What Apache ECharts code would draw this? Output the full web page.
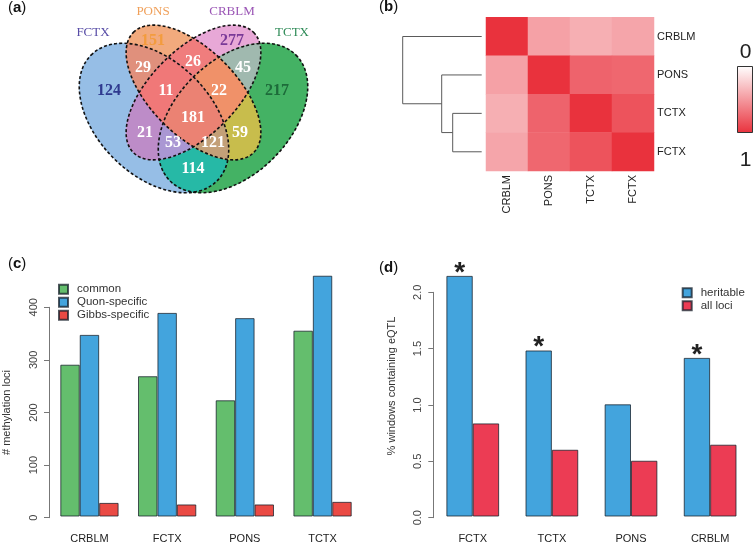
<!DOCTYPE html>
<html><head><meta charset="utf-8">
<script src="https://cdn.jsdelivr.net/npm/echarts@6/dist/echarts.min.js"></script>
<style>html,body{margin:0;padding:0;background:#fff}#c{width:754px;height:544px}</style>
</head><body><div id="c"></div>
<script>
// ---------- DATA ----------
// (a) Venn
const vennSetNames = ['FCTX', 'PONS', 'CRBLM', 'TCTX'];
const vennRegionSets = ['F','P','C','T','FP','PC','CT','FT','FC','PT','FPC','PCT','FCT','FPT','FPCT'];
const vennCounts = [124, 151, 277, 217, 29, 26, 45, 114, 21, 59, 11, 22, 53, 121, 181];
// (b) heatmap + dendrogram
const heatLabels = ['CRBLM', 'PONS', 'TCTX', 'FCTX'];
const corrMatrix = [
  [1.00, 0.46, 0.39, 0.44],
  [0.46, 1.00, 0.76, 0.74],
  [0.39, 0.76, 1.00, 0.84],
  [0.44, 0.74, 0.84, 1.00]
];
const dendroMerge = [[-3, -4], [-2, 1], [-1, 2]];   // hclust-style merges (negative = leaf)
const dendroHeight = [0.29, 0.40, 0.79];
// (c)
const regionsC = ['CRBLM', 'FCTX', 'PONS', 'TCTX'];
const commonC = [290, 268, 222, 355];
const quonC = [347, 389, 379, 460];
const gibbsC = [26, 23, 23, 28];
const ticksC = [0, 100, 200, 300, 400];
// (d)
const regionsD = ['FCTX', 'TCTX', 'PONS', 'CRBLM'];
const heritableD = [2.145, 1.48, 1.0, 1.414];
const allLociD = [0.83, 0.595, 0.497, 0.64];
const significantD = [true, true, false, true];
const ticksD = [0, 0.5, 1.0, 1.5, 2.0];

// ---------- STYLE / LAYOUT ----------
const FONT = 'Liberation Sans';
const heatRed = '#e9323d';
const regionFill = {
  F:'#96bee6', P:'#f2aa7d', C:'#e8a8d7', T:'#44b264',
  FP:'#e0907c', PC:'#f07d7d', CT:'#a0b9af', FT:'#26b9a6', FC:'#bd8cc8', PT:'#c8bd4c',
  FPC:'#f07878', PCT:'#f09169', FCT:'#aa97d3', FPT:'#c3a078', FPCT:'#eb8273'
};
const setKeys = ['F','P','C','T'];
const setLabelColor = ['#574ca6', '#f0a05a', '#9a55b5', '#2e8b57'];
const setLabelPos = [[93,33],[153,12],[232,12],[292,33]];
const countColor = {F:'#2f3a8f', P:'#f39c3e', C:'#7a3a98', T:'#1d6b3a'};
const countPos = [[109,91],[153,41],[232,41],[277,91],[143,68],[193,62],[243,68],[193,169],
                  [145,133],[240,133],[166,91],[219,91],[173,143],[213,143],[193,118]];
// ellipse layout in pixels (rotation in screen degrees, clockwise)
const ellipses = [
  {cx:154, cy:118, a:89, b:57, rot:45},
  {cx:193.5, cy:92.5, a:85, b:43, rot:45},
  {cx:193.5, cy:92.5, a:85, b:43, rot:135},
  {cx:233, cy:118, a:89, b:57, rot:135}
];
function ellPoly(e, n){
  const pts = [], th = e.rot*Math.PI/180;
  for (let i = 0; i < n; i++){
    const t = 2*Math.PI*i/n;
    pts.push([e.cx + e.a*Math.cos(t)*Math.cos(th) - e.b*Math.sin(t)*Math.sin(th),
              e.cy + e.a*Math.cos(t)*Math.sin(th) + e.b*Math.sin(t)*Math.cos(th)]);
  }
  return pts;
}
function signedArea(p){ let s=0; for(let i=0;i<p.length;i++){const a=p[i],b=p[(i+1)%p.length]; s+=a[0]*b[1]-b[0]*a[1];} return s/2; }
function clip(subject, clipPoly){
  let out = subject.slice();
  const sg = Math.sign(signedArea(clipPoly));
  for (let i = 0; i < clipPoly.length; i++){
    const A = clipPoly[i], B = clipPoly[(i+1)%clipPoly.length];
    const inp = out; out = [];
    if (!inp.length) break;
    const d = p => (B[0]-A[0])*(p[1]-A[1]) - (B[1]-A[1])*(p[0]-A[0]);
    for (let j = 0; j < inp.length; j++){
      const P = inp[j], Q = inp[(j+1)%inp.length];
      const dp = d(P), dq = d(Q), pi = sg*dp >= 0, qi = sg*dq >= 0;
      if (pi) out.push(P);
      if (pi !== qi){ const t = dp/(dp-dq); out.push([P[0]+t*(Q[0]-P[0]), P[1]+t*(Q[1]-P[1])]); }
    }
  }
  return out;
}
const ellPolys = ellipses.map(e => ellPoly(e, 180));

const graphics = [];
// region fills: paint intersections in order of increasing set count
const order = vennRegionSets.map((s,i)=>i).sort((a,b)=>vennRegionSets[a].length - vennRegionSets[b].length);
order.forEach(i => {
  const key = vennRegionSets[i];
  let poly = null;
  key.split('').forEach(k => {
    const ep = ellPolys[setKeys.indexOf(k)];
    poly = poly ? clip(poly, ep) : ep.slice();
  });
  graphics.push({type:'polygon', z:1, shape:{points: poly}, style:{fill: regionFill[key], stroke: regionFill[key], lineWidth: 0.5}});
});
ellipses.forEach(e => {
  graphics.push({type:'ellipse', z:2, x: e.cx, y: e.cy, rotation: -e.rot*Math.PI/180,
    shape:{cx:0, cy:0, rx:e.a, ry:e.b},
    style:{fill:'none', stroke:'#111', lineWidth:1.6, lineDash:[3,2.2]}});
});
vennSetNames.forEach((n,i) => {
  graphics.push({type:'text', z:3, x:setLabelPos[i][0], y:setLabelPos[i][1],
    style:{text:n, fill:setLabelColor[i], font:'13px "Liberation Serif"', align:'center', verticalAlign:'middle'}});
});
vennCounts.forEach((c,i) => {
  const key = vennRegionSets[i];
  graphics.push({type:'text', z:3, x:countPos[i][0], y:countPos[i][1],
    style:{text:String(c), fill: key.length === 1 ? countColor[key] : '#ffffff',
      font:'bold 16px "Liberation Serif"', align:'center', verticalAlign:'middle'}});
});
// panel labels
[['a',8,8],['b',379,7],['c',8,264],['d',379,268]].forEach(p => {
  graphics.push({type:'text', z:3, x:p[1], y:p[2],
    style:{text:'({b|' + p[0] + '})', fontSize:15, fontFamily:FONT, fill:'#111', verticalAlign:'middle',
      rich:{b:{fontWeight:'bold', fontSize:15, fontFamily:FONT, fill:'#111'}}}});
});
// colour key for (b)
graphics.push({type:'rect', z:3, shape:{x:737.5, y:66.5, width:15, height:66},
  style:{fill: new echarts.graphic.LinearGradient(0,0,0,1,[{offset:0,color:'#ffffff'},{offset:1,color:heatRed}]),
    stroke:'#333', lineWidth:1}});
graphics.push({type:'text', z:3, x:745.5, y:52, style:{text:'0', font:'21px "Liberation Sans"', fill:'#222', align:'center', verticalAlign:'middle'}});
graphics.push({type:'text', z:3, x:745.5, y:160, style:{text:'1', font:'21px "Liberation Sans"', fill:'#222', align:'center', verticalAlign:'middle'}});

// heatmap data
const heatData = [];
corrMatrix.forEach((row, r) => row.forEach((v, c) => heatData.push([c, r, v])));
// dendrogram lines
const leafPos = heatLabels.map((_, i) => i);
const nodePos = [], nodeH = [];
const dendroSeries = [];
function childInfo(id){ return id < 0 ? [0, leafPos[-id-1]] : [nodeH[id-1], nodePos[id-1]]; }
dendroMerge.forEach((m, k) => {
  const [hl, yl] = childInfo(m[0]);
  const [hr, yr] = childInfo(m[1]);
  const h = dendroHeight[k];
  nodeH.push(h); nodePos.push((yl + yr)/2);
  dendroSeries.push({type:'line', xAxisIndex:1, yAxisIndex:1, symbol:'none', silent:true,
    lineStyle:{color:'#5a5a5a', width:1}, data:[[hl, yl],[h, yl],[h, yr],[hr, yr]]});
});

const barBorder = {borderColor:'rgba(20,30,40,0.75)', borderWidth:1};

const option = {
  animation:false,
  textStyle:{fontFamily:FONT},
  graphic: graphics,
  grid:[
    {left:486, top:17.3, width:168, height:153.7},          // 0 heatmap
    {left:402.7, top:17.3, width:79, height:153.7},         // 1 dendrogram
    {left:50.6, width:310.8, top:270.5, bottom:26.3},       // 2 (c) bars
    {left:49, width:1, top:307.3, bottom:26.3},             // 3 (c) axis
    {left:433.2, width:316.5, top:258.5, bottom:26.3},      // 4 (d) bars
    {left:433.3, width:1, top:292.3, bottom:26.3}           // 5 (d) axis
  ],
  xAxis:[
    {gridIndex:0, type:'category', data:heatLabels, axisLine:{show:false}, axisTick:{show:false},
      axisLabel:{rotate:90, fontSize:11, color:'#222', margin:4}},
    {gridIndex:1, type:'value', inverse:true, min:0, max:dendroHeight[dendroHeight.length-1], show:false},
    {gridIndex:2, type:'category', data:regionsC, axisLine:{show:false}, axisTick:{show:false},
      axisLabel:{fontSize:11, color:'#222', margin:16.5}},
    {gridIndex:3, type:'value', show:false, min:0, max:1},
    {gridIndex:4, type:'category', data:regionsD, axisLine:{show:false}, axisTick:{show:false},
      axisLabel:{fontSize:11, color:'#222', margin:16.5}},
    {gridIndex:5, type:'value', show:false, min:0, max:1}
  ],
  yAxis:[
    {gridIndex:0, type:'category', data:heatLabels, inverse:true, position:'right', axisLine:{show:false}, axisTick:{show:false},
      axisLabel:{fontSize:11, color:'#222', margin:3}},
    {gridIndex:1, type:'value', inverse:true, min:-0.5, max:3.5, show:false},
    {gridIndex:2, type:'value', min:0, max:470, show:false},
    {gridIndex:3, type:'value', min:0, max:ticksC[ticksC.length-1], interval:100,
      axisLine:{show:true, lineStyle:{color:'#777'}}, axisTick:{show:true, length:5, lineStyle:{color:'#777'}},
      axisLabel:{rotate:90, fontSize:11, color:'#444', margin:10}, splitLine:{show:false},
      name:'# methylation loci', nameLocation:'middle', nameGap:37, nameTextStyle:{fontSize:11, color:'#333'}},
    {gridIndex:4, type:'value', min:0, max:2.3, show:false},
    {gridIndex:5, type:'value', min:0, max:ticksD[ticksD.length-1], interval:0.5,
      axisLine:{show:true, lineStyle:{color:'#777'}}, axisTick:{show:true, length:5, lineStyle:{color:'#777'}},
      axisLabel:{rotate:90, fontSize:11, color:'#444', margin:10, formatter: v => v.toFixed(1)}, splitLine:{show:false},
      name:'% windows containing eQTL', nameLocation:'middle', nameGap:36,
      nameTextStyle:{fontSize:11, color:'#333', padding:[0,0,0,38]}}
  ],
  visualMap:{show:false, seriesIndex:0, min:0, max:1, inRange:{color:['#ffffff', heatRed]}},
  legend:[
    {left:58, top:282.8, padding:0, orient:'vertical', itemWidth:9, itemHeight:9, itemGap:0, icon:'rect',
      data:['common','Quon-specific','Gibbs-specific'],
      textStyle:{fontSize:11.5, color:'#333', lineHeight:13, padding:[0,0,0,4]}},
    {left:681.7, top:286.2, padding:0, orient:'vertical', itemWidth:9, itemHeight:9, itemGap:0, icon:'rect',
      data:['heritable','all loci'],
      textStyle:{fontSize:11.5, color:'#333', lineHeight:13, padding:[0,0,0,4]}}
  ],
  series:[
    {type:'heatmap', xAxisIndex:0, yAxisIndex:0, data:heatData, silent:true},
    ...dendroSeries,
    {name:'common', type:'bar', xAxisIndex:2, yAxisIndex:2, data:commonC, barGap:'0%', barCategoryGap:'25%',
      itemStyle:Object.assign({color:'#64be6d'}, barBorder)},
    {name:'Quon-specific', type:'bar', xAxisIndex:2, yAxisIndex:2, data:quonC,
      itemStyle:Object.assign({color:'#43a4dd'}, barBorder)},
    {name:'Gibbs-specific', type:'bar', xAxisIndex:2, yAxisIndex:2, data:gibbsC,
      itemStyle:Object.assign({color:'#ea4a44'}, barBorder)},
    {name:'heritable', type:'bar', xAxisIndex:4, yAxisIndex:4, data:heritableD, barGap:'0%', barCategoryGap:'33.33%',
      itemStyle:Object.assign({color:'#43a4dd'}, barBorder),
      label:{show:true, position:'top', distance:-11, fontSize:28, fontWeight:'bold', color:'#222',
        formatter: p => significantD[p.dataIndex] ? '*' : ''}},
    {name:'all loci', type:'bar', xAxisIndex:4, yAxisIndex:4, data:allLociD,
      itemStyle:Object.assign({color:'#ec3c54'}, barBorder)}
  ]
};
const chart = echarts.init(document.getElementById('c'), null, {renderer:'canvas'});
chart.setOption(option);
</script>
</body></html>
